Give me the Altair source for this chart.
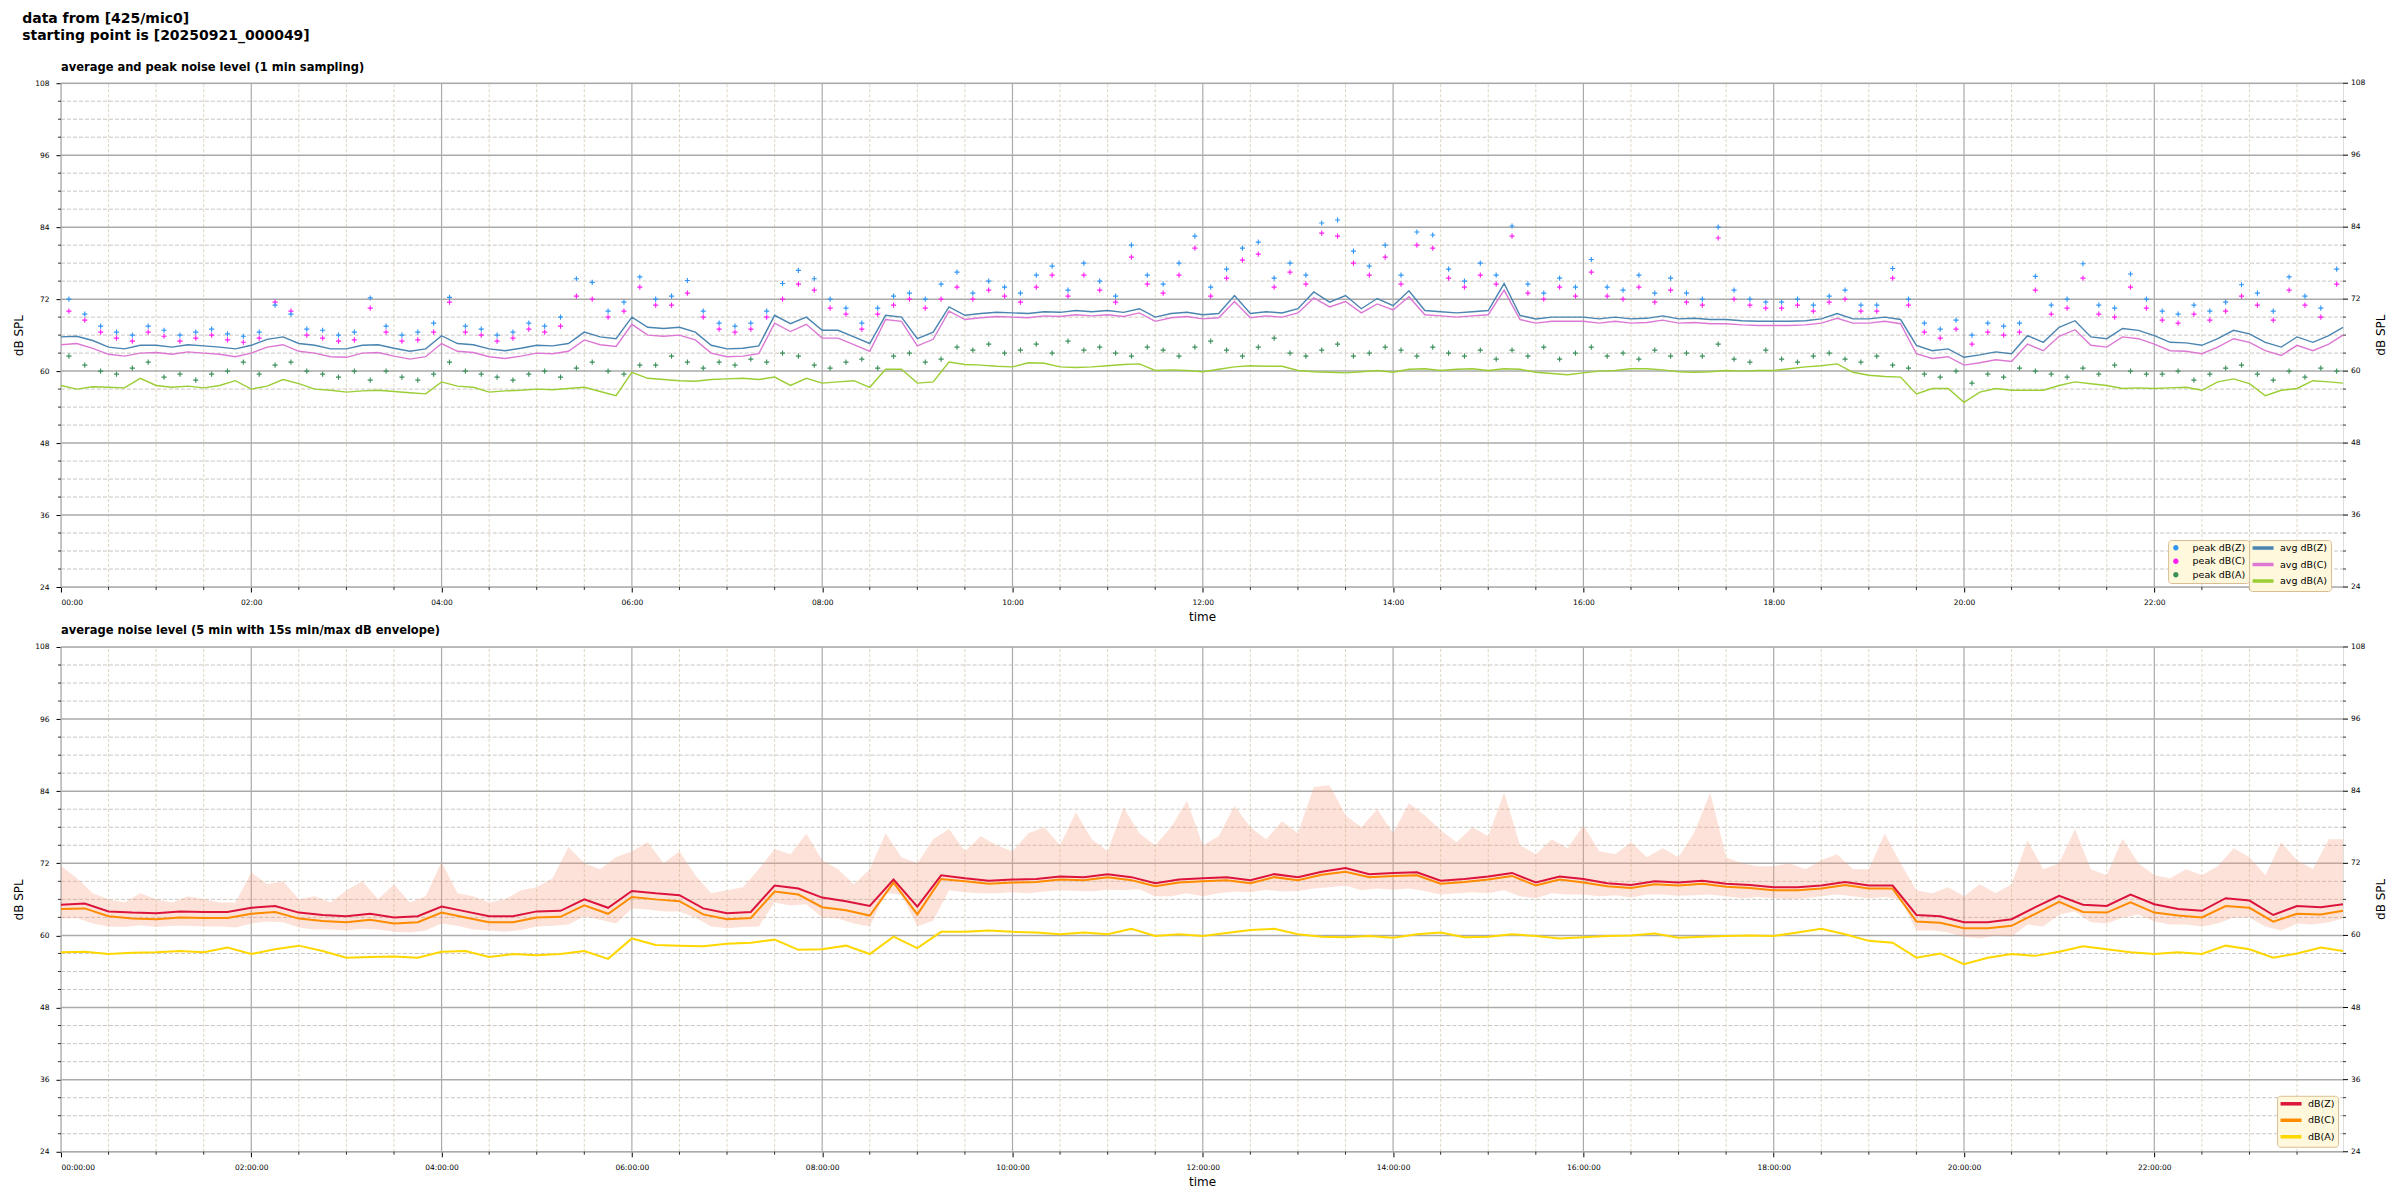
import altair as alt
import pandas as pd

# ---------------- data ----------------
# top panel: 1-min averages sampled every 10 min (last point = 23:59)
TOP_T = [10 * i for i in range(144)] + [1439]
TOP_AVG_Z = [
    65.7, 65.8, 65.1, 64.0, 63.7, 64.3,
    64.3, 64.0, 64.4, 64.2, 64.0, 63.7,
    64.3, 65.3, 65.7, 64.6, 64.3, 63.7,
    63.7, 64.3, 64.4, 63.8, 63.3, 63.7,
    65.9, 64.6, 64.4, 63.7, 63.4, 63.8,
    64.3, 64.2, 64.6, 66.5, 65.7, 65.4,
    69.0, 67.3, 67.1, 67.3, 66.5, 64.3,
    63.7, 63.8, 64.2, 69.3, 67.9, 69.0,
    66.8, 66.8, 65.7, 64.6, 69.3, 69.0,
    65.4, 66.5, 70.7, 69.3, 69.6, 69.8,
    69.7, 69.6, 69.9, 69.8, 70.1, 69.9,
    70.1, 69.8, 70.4, 69.0, 69.6, 69.8,
    69.4, 69.6, 72.6, 69.6, 69.9, 69.7,
    70.4, 73.2, 71.5, 72.6, 70.4, 72.1,
    70.9, 73.4, 70.1, 69.9, 69.7, 69.9,
    70.1, 74.6, 69.3, 68.7, 69.0, 69.0,
    69.0, 68.7, 69.0, 68.7, 68.8, 69.2,
    68.7, 68.8, 68.6, 68.6, 68.4, 68.3,
    68.3, 68.3, 68.4, 68.7, 69.6, 68.7,
    68.7, 69.0, 68.6, 64.3, 63.4, 63.7,
    62.3, 62.7, 63.2, 62.9, 65.9, 64.8,
    67.3, 68.4, 65.7, 65.4, 67.1, 66.8,
    65.9, 64.8, 64.7, 64.3, 65.4, 66.8,
    66.2, 64.8, 64.0, 65.7, 64.8, 65.9,
    67.3,
]
TOP_AVG_C = [
    64.4, 64.6, 63.8, 62.8, 62.5, 63.0,
    63.1, 62.8, 63.2, 63.0, 62.8, 62.4,
    63.0, 64.0, 64.4, 63.3, 63.0, 62.4,
    62.3, 63.0, 63.1, 62.5, 62.0, 62.4,
    64.6, 63.3, 63.1, 62.4, 62.1, 62.5,
    63.0, 62.9, 63.3, 65.2, 64.4, 64.1,
    67.8, 66.0, 65.8, 66.0, 65.2, 63.0,
    62.4, 62.5, 62.9, 68.0, 66.6, 67.8,
    65.5, 65.5, 64.4, 63.3, 68.6, 68.3,
    64.2, 65.3, 70.0, 68.6, 68.9, 69.1,
    69.0, 68.9, 69.2, 69.1, 69.4, 69.2,
    69.4, 69.1, 69.7, 68.3, 68.9, 69.1,
    68.7, 68.9, 71.6, 68.9, 69.2, 69.0,
    69.7, 72.2, 70.7, 71.6, 69.7, 71.2,
    70.2, 72.4, 69.4, 69.2, 69.0, 69.2,
    69.4, 73.5, 68.6, 68.0, 68.3, 68.3,
    68.3, 68.0, 68.3, 68.0, 68.1, 68.5,
    68.0, 68.1, 67.9, 67.9, 67.7, 67.6,
    67.6, 67.6, 67.7, 68.0, 68.8, 68.0,
    68.0, 68.3, 67.9, 62.9, 62.1, 62.4,
    61.0, 61.4, 61.9, 61.6, 64.5, 63.4,
    65.8, 66.9, 64.3, 64.0, 65.7, 65.4,
    64.5, 63.4, 63.3, 62.9, 64.0, 65.4,
    64.8, 63.4, 62.6, 64.3, 63.4, 64.5,
    66.0,
]
TOP_AVG_A = [
    57.6, 57.0, 57.4, 57.3, 57.2, 58.8,
    57.6, 57.3, 57.5, 57.2, 57.6, 58.4,
    57.0, 57.5, 58.6, 57.9, 57.0, 56.8,
    56.5, 56.7, 56.8, 56.6, 56.4, 56.2,
    58.2, 57.5, 57.3, 56.5, 56.7, 56.8,
    57.0, 56.9, 57.1, 57.3, 56.6, 55.9,
    59.8, 58.8, 58.6, 58.4, 58.3, 58.6,
    58.7, 58.8, 58.6, 59.0, 57.6, 58.8,
    58.0, 58.2, 58.4, 57.3, 60.3, 60.3,
    58.0, 58.2, 61.5, 61.1, 61.0, 60.8,
    60.7, 61.4, 61.3, 60.7, 60.6, 60.7,
    60.9, 61.1, 61.2, 60.1, 60.2, 60.1,
    59.9, 60.3, 60.7, 60.9, 60.8, 60.8,
    60.1, 59.9, 59.8, 59.7, 59.9, 60.1,
    59.8, 60.3, 60.4, 60.1, 60.3, 60.4,
    60.1, 60.4, 60.3, 59.8, 59.6, 59.4,
    59.7, 60.0, 60.1, 60.4, 60.4, 60.2,
    59.9, 59.8, 59.9, 60.1, 60.0, 60.1,
    60.1, 60.4, 60.7, 60.9, 61.2, 59.8,
    59.3, 59.1, 59.0, 56.2, 57.1, 57.1,
    54.8, 56.5, 57.1, 56.8, 56.8, 56.8,
    57.6, 58.2, 57.9, 57.6, 57.1, 57.2,
    57.1, 57.2, 57.3, 56.8, 58.2, 58.7,
    57.9, 55.9, 56.8, 57.1, 58.4, 58.2,
    58.0,
]

# top panel: peak values (one per 10 min, plotted mid-interval)
PEAK_T = [10 * i + 5 for i in range(144)]
PEAK_Z = [
    72.0, 69.5, 67.5, 66.5, 66.0, 67.5,
    66.8, 66.0, 66.5, 67.0, 66.2, 65.8,
    66.5, 71.0, 69.5, 67.0, 66.8, 66.0,
    66.5, 72.2, 67.5, 66.0, 66.5, 68.0,
    72.3, 67.5, 67.0, 66.0, 66.5, 68.0,
    67.5, 69.0, 75.4, 74.8, 70.0, 71.5,
    75.7, 72.0, 72.5, 75.1, 70.0, 68.0,
    67.5, 68.0, 70.0, 74.6, 76.8, 75.4,
    72.0, 70.5, 68.0, 70.5, 72.5, 73.0,
    72.0, 74.5, 76.5, 73.0, 75.0, 74.0,
    73.0, 76.0, 77.5, 73.5, 78.0, 75.0,
    72.5, 81.0, 76.0, 74.5, 78.0, 82.5,
    74.0, 77.0, 80.5, 81.5, 75.5, 78.0,
    76.0, 84.7, 85.2, 80.0, 77.5, 81.0,
    76.0, 83.2, 82.7, 77.0, 75.0, 78.0,
    76.0, 84.2, 74.5, 73.0, 75.5, 74.0,
    78.6, 74.0, 73.5, 76.0, 73.0, 75.5,
    73.0, 72.0, 84.0, 73.5, 72.0, 71.5,
    71.5, 72.0, 71.0, 72.5, 73.5, 71.0,
    71.0, 77.1, 72.0, 68.0, 67.0, 68.5,
    66.0, 68.0, 67.5, 68.0, 75.8, 71.0,
    72.0, 77.9, 71.0, 70.5, 76.2, 72.0,
    70.0, 69.5, 71.0, 70.0, 71.5, 74.4,
    73.0, 70.0, 75.7, 72.5, 70.5, 77.0,
]
PEAK_C = [
    70.0, 68.5, 66.5, 65.5, 65.0, 66.5,
    65.8, 65.0, 65.5, 66.0, 65.2, 64.8,
    65.5, 71.5, 70.0, 66.0, 65.5, 65.0,
    65.2, 70.5, 66.5, 65.0, 65.2, 66.5,
    71.5, 66.5, 66.0, 65.0, 65.5, 67.0,
    66.5, 67.5, 72.5, 72.0, 69.0, 70.0,
    74.0, 71.0, 71.0, 73.0, 69.0, 67.0,
    66.5, 67.0, 69.0, 72.0, 74.5, 73.5,
    70.5, 69.5, 67.0, 69.5, 71.0, 72.0,
    70.5, 72.0, 74.0, 72.0, 73.5, 72.5,
    71.5, 74.0, 76.0, 72.5, 76.0, 73.5,
    71.5, 79.0, 74.5, 73.0, 76.0, 80.5,
    72.5, 75.5, 78.5, 79.5, 74.0, 76.5,
    74.5, 83.0, 82.5, 78.0, 76.0, 79.0,
    74.5, 81.0, 80.5, 75.5, 74.0, 76.0,
    74.5, 82.5, 73.0, 72.0, 74.0, 72.5,
    76.5, 72.5, 72.0, 74.0, 71.5, 73.5,
    71.5, 71.0, 82.2, 72.0, 71.0, 70.5,
    70.5, 71.0, 70.0, 71.5, 72.0, 70.0,
    70.0, 75.5, 71.0, 66.5, 65.5, 67.0,
    64.5, 66.5, 66.0, 66.5, 73.5, 69.5,
    70.5, 75.5, 69.5, 69.0, 74.0, 70.5,
    68.5, 68.0, 69.5, 68.5, 70.0, 72.5,
    71.0, 68.5, 73.5, 71.0, 69.0, 74.5,
]
PEAK_A = [
    62.5, 61.0, 60.0, 59.5, 60.5, 61.5,
    59.0, 59.5, 58.5, 59.5, 60.0, 61.5,
    59.5, 61.0, 61.5, 60.0, 59.5, 59.0,
    60.0, 58.5, 60.0, 59.0, 58.5, 59.5,
    61.5, 60.0, 59.5, 59.0, 58.5, 59.5,
    60.0, 59.0, 60.5, 61.5, 60.0, 59.5,
    61.0, 61.0, 62.5, 61.5, 60.5, 61.5,
    61.0, 62.0, 61.5, 63.0, 62.5, 61.0,
    60.5, 61.5, 62.0, 60.5, 62.5, 63.0,
    61.5, 62.0, 64.0, 63.5, 64.5, 63.0,
    63.5, 64.5, 63.0, 65.0, 63.5, 64.0,
    63.0, 62.5, 64.0, 63.5, 62.5, 64.0,
    65.0, 63.5, 62.5, 64.0, 65.5, 63.0,
    62.5, 63.5, 64.5, 62.5, 63.0, 64.0,
    63.5, 62.5, 64.0, 63.0, 62.5, 63.5,
    62.0, 63.5, 62.5, 64.0, 62.0, 63.0,
    64.0, 62.5, 63.0, 62.0, 63.5, 62.5,
    63.0, 62.5, 64.5, 62.0, 61.5, 63.5,
    62.0, 61.5, 62.5, 63.0, 62.0, 61.5,
    62.5, 61.0, 60.5, 59.5, 59.0, 60.0,
    58.0, 59.5, 59.0, 60.5, 60.0, 59.5,
    59.0, 60.5, 59.5, 61.0, 60.0, 59.5,
    59.5, 60.0, 58.5, 59.5, 60.5, 61.0,
    59.5, 58.5, 60.0, 59.0, 60.5, 60.0,
]

# bottom panel: 5-min averages sampled every 15 min (last point = 23:59)
BOT_T = [15 * i for i in range(96)] + [1439]
BOT_Z = [
    65.1, 65.3, 64.0, 63.8,
    63.7, 64.0, 63.9, 63.9,
    64.6, 64.9, 63.8, 63.4,
    63.2, 63.6, 63.0, 63.2,
    64.8, 64.0, 63.2, 63.2,
    64.0, 64.1, 66.0, 64.6,
    67.4, 67.0, 66.7, 64.5,
    63.7, 63.9, 68.3, 67.8,
    66.3, 65.7, 64.9, 69.3,
    64.8, 70.0, 69.5, 69.1,
    69.3, 69.4, 69.8, 69.7,
    70.2, 69.7, 68.7, 69.3,
    69.5, 69.7, 69.2, 70.2,
    69.7, 70.6, 71.2, 70.2,
    70.4, 70.5, 69.1, 69.4,
    69.8, 70.4, 68.8, 69.8,
    69.4, 68.7, 68.4, 69.0,
    68.8, 69.1, 68.6, 68.4,
    68.0, 68.0, 68.3, 68.9,
    68.3, 68.3, 63.4, 63.2,
    62.2, 62.2, 62.7, 64.7,
    66.6, 65.1, 64.9, 66.8,
    65.2, 64.4, 64.1, 66.2,
    65.8, 63.4, 64.9, 64.7,
    65.2,
]
BOT_C = [
    64.4, 64.5, 63.2, 62.8,
    62.7, 63.0, 62.9, 62.9,
    63.6, 63.9, 62.8, 62.4,
    62.2, 62.6, 62.0, 62.2,
    63.8, 63.0, 62.2, 62.2,
    63.0, 63.1, 65.0, 63.6,
    66.4, 66.0, 65.7, 63.5,
    62.7, 62.9, 67.3, 66.8,
    64.7, 64.2, 63.3, 68.8,
    63.5, 69.4, 69.0, 68.6,
    68.8, 68.9, 69.3, 69.2,
    69.7, 69.2, 68.2, 68.8,
    69.0, 69.2, 68.7, 69.7,
    69.2, 70.1, 70.6, 69.7,
    69.9, 70.0, 68.6, 68.9,
    69.3, 69.9, 68.3, 69.3,
    68.8, 68.2, 67.9, 68.5,
    68.3, 68.6, 68.1, 67.9,
    67.5, 67.5, 67.8, 68.4,
    67.8, 67.8, 62.3, 62.1,
    61.2, 61.2, 61.6, 63.6,
    65.6, 63.9, 63.8, 65.5,
    63.8, 63.3, 63.0, 64.9,
    64.6, 62.3, 63.6, 63.5,
    64.1,
]
BOT_A = [
    57.2, 57.3, 56.9, 57.1,
    57.2, 57.4, 57.2, 58.0,
    56.9, 57.7, 58.3, 57.4,
    56.3, 56.4, 56.5, 56.3,
    57.3, 57.4, 56.4, 56.9,
    56.7, 56.9, 57.4, 56.1,
    59.5, 58.4, 58.3, 58.2,
    58.6, 58.8, 59.3, 57.6,
    57.7, 58.3, 56.9, 59.8,
    57.9, 60.6, 60.6, 60.8,
    60.6, 60.5, 60.2, 60.5,
    60.2, 61.1, 59.9, 60.2,
    59.9, 60.4, 60.9, 61.1,
    60.2, 59.8, 59.7, 59.9,
    59.6, 60.2, 60.5, 59.7,
    59.8, 60.2, 59.9, 59.5,
    59.7, 59.9, 60.0, 60.3,
    59.6, 59.8, 59.9, 60.0,
    59.9, 60.5, 61.1, 60.2,
    59.1, 58.8, 56.3, 57.0,
    55.2, 56.3, 56.9, 56.6,
    57.3, 58.2, 57.7, 57.2,
    56.9, 57.2, 56.9, 58.3,
    57.7, 56.3, 57.0, 58.0,
    57.4,
]
# bottom panel: 15 s min / max envelope, sampled every 10 min
ENV_T = TOP_T
ENV_MIN = [
    62.8, 62.9, 62.0, 61.5, 61.4, 61.7,
    61.4, 61.6, 61.6, 61.5, 61.5, 61.3,
    62.0, 62.3, 62.2, 61.3, 61.0, 61.0,
    60.8, 61.1, 61.0, 60.6, 60.5, 60.8,
    62.0, 61.6, 61.0, 60.8, 60.6, 60.9,
    61.5, 61.6, 61.8, 63.2, 62.6, 62.0,
    64.5, 64.3, 64.0, 64.0, 63.0, 61.5,
    61.2, 61.4, 61.5, 65.5, 65.0, 65.2,
    63.0, 62.8, 62.0, 61.5, 67.0, 66.8,
    61.5, 62.5, 67.5, 67.2, 67.0, 67.0,
    67.2, 67.0, 67.3, 67.5, 67.4, 67.3,
    67.6, 67.5, 67.7, 66.5, 66.5, 67.0,
    66.5, 67.0, 67.3, 67.2, 67.6, 67.3,
    67.4, 67.8, 68.0, 68.3, 67.5, 67.8,
    67.6, 67.8, 67.4, 66.8, 67.0, 67.2,
    67.0, 67.5, 66.5, 66.2, 67.0, 66.8,
    66.8, 66.5, 66.7, 66.3, 66.8, 66.8,
    66.6, 66.7, 66.8, 66.5, 66.2, 66.4,
    66.2, 66.0, 66.2, 66.5, 66.8, 66.5,
    66.2, 66.4, 66.0, 60.8, 60.8, 60.5,
    59.8, 59.5, 60.0, 59.8, 61.8, 61.5,
    63.5, 64.0, 62.2, 62.0, 63.0, 63.5,
    62.3, 61.8, 61.8, 61.5, 62.0, 63.0,
    63.0, 61.5, 60.8, 62.0, 61.8, 62.2,
    62.8,
]
ENV_MAX = [
    71.6, 69.5, 67.0, 66.0, 65.5, 67.0,
    66.0, 65.5, 66.5, 66.0, 65.5, 65.5,
    70.5, 68.5, 69.0, 66.0, 66.5, 65.5,
    67.5, 69.0, 66.0, 68.5, 65.5, 66.5,
    72.2, 67.0, 66.5, 65.5, 66.0, 67.5,
    68.0, 69.5, 74.7, 72.0, 71.0, 73.0,
    74.0, 75.5, 72.0, 74.0, 70.0, 67.0,
    67.5, 68.0, 71.0, 74.4, 73.5, 76.9,
    72.5, 71.0, 68.5, 71.0, 77.0, 73.0,
    72.0, 76.0, 77.7, 74.0, 76.5, 75.0,
    74.0, 77.0, 78.0, 75.0, 80.5, 76.0,
    74.0, 81.3, 77.0, 75.0, 78.0, 82.4,
    75.0, 76.5, 81.6, 78.0, 76.0, 79.0,
    77.0, 84.7, 85.0, 80.0, 78.0, 81.0,
    77.0, 82.0, 80.0, 77.5, 75.5, 78.0,
    76.5, 83.8, 75.0, 73.5, 76.0, 74.5,
    78.3, 74.0, 73.5, 75.5, 73.0, 74.5,
    73.0, 77.2, 83.8, 73.0, 72.0, 71.5,
    71.5, 72.0, 71.0, 72.5, 73.5, 71.0,
    71.0, 76.9, 72.0, 67.5, 67.0, 68.0,
    66.5, 68.5, 67.0, 68.5, 75.8, 71.0,
    72.0, 77.7, 71.0, 70.0, 76.1, 72.0,
    70.0, 69.5, 71.0, 70.0, 71.5, 74.5,
    73.0, 70.0, 75.5, 72.5, 71.0, 76.0,
    76.0,
]

# axis / grid values
Y_MAJOR = [24, 36, 48, 60, 72, 84, 96, 108]
Y_MINOR = [v for v in range(24, 109, 3) if v % 12 != 0]
X_MAJOR = list(range(0, 1440, 120))
X_MINOR = [v for v in range(0, 1440, 30) if v % 120 != 0]

PEAK_SERIES = ["peak dB(Z)", "peak dB(C)", "peak dB(A)"]
PEAK_COLORS = ["#2f95f5", "#ff1df2", "#3a8f5a"]
AVG_SERIES = ["avg dB(Z)", "avg dB(C)", "avg dB(A)"]
AVG_COLORS = ["#4a84b0", "#dc78d4", "#9bcd34"]
BOT_SERIES = ["dB(Z)", "dB(C)", "dB(A)"]
BOT_COLORS = ["#dc143c", "#ff8c00", "#ffd700"]


# ---------------- tables ----------------
def long(t, cols, key):
    rows = []
    for name, vals in cols:
        for m, v in zip(t, vals):
            rows.append({"m": m, "v": v, key: name})
    return pd.DataFrame(rows)


top_lines = long(TOP_T, [("avg dB(A)", TOP_AVG_A), ("avg dB(C)", TOP_AVG_C), ("avg dB(Z)", TOP_AVG_Z)], "s")
top_peaks = long(PEAK_T, [("peak dB(A)", PEAK_A), ("peak dB(C)", PEAK_C), ("peak dB(Z)", PEAK_Z)], "p")
bot_lines = long(BOT_T, [("dB(A)", BOT_A), ("dB(C)", BOT_C), ("dB(Z)", BOT_Z)], "b")
env = pd.DataFrame({"m": ENV_T, "lo": ENV_MIN, "hi": ENV_MAX})

XS = alt.Scale(domain=[0, 1439], nice=False, zero=False)
YS = alt.Scale(domain=[24, 108], nice=False, zero=False)

W, H = 2283, 504
LBL = 7.5
AX = dict(labelFont="DejaVu Sans", labelFontSize=LBL, labelColor="black", tickColor="black",
          domain=False, grid=False, titleFont="DejaVu Sans", titleFontSize=12,
          titleFontWeight="normal", titleColor="black", tickSize=5, labelPadding=7)

HHMM = "(floor(datum.value/60) < 10 ? '0' : '') + floor(datum.value/60) + ':00'"
HHMMSS = "(floor(datum.value/60) < 10 ? '0' : '') + floor(datum.value/60) + ':00:00'"

YAX = alt.Axis(values=Y_MAJOR, title="dB SPL", titlePadding=9, **AX)


def make_xax(label_expr):
    return alt.Axis(values=X_MAJOR, labelExpr=label_expr, title="time", titlePadding=5, **AX)


def frame_layers(xax, h):
    ymin = pd.DataFrame({"v": Y_MINOR})
    ymaj = pd.DataFrame({"v": Y_MAJOR})
    xmin = pd.DataFrame({"m": X_MINOR})
    xmaj = pd.DataFrame({"m": X_MAJOR})
    gxm = alt.Chart(xmin).mark_rule(color="#d6ccb4", strokeDash=[3, 2], strokeWidth=0.8).encode(
        x=alt.X("m:Q", scale=XS, axis=xax), y=alt.Y(datum=24, scale=YS, axis=YAX), y2=alt.Y2(datum=108))
    gym = alt.Chart(ymin).mark_rule(color="#bcb8b0", strokeDash=[4, 2], strokeWidth=0.8).encode(
        y=alt.Y("v:Q", scale=YS, axis=YAX), x=alt.X(datum=0, scale=XS, axis=xax), x2=alt.X2(datum=1439))
    gx = alt.Chart(xmaj).mark_rule(color="#aaaaaa", strokeWidth=1.2).encode(
        x=alt.X("m:Q", scale=XS, axis=xax), y=alt.Y(datum=24, scale=YS, axis=YAX), y2=alt.Y2(datum=108))
    gy = alt.Chart(ymaj).mark_rule(color="#aaaaaa", strokeWidth=1.5).encode(
        y=alt.Y("v:Q", scale=YS, axis=YAX), x=alt.X(datum=0, scale=XS, axis=xax), x2=alt.X2(datum=1439))
    tl = alt.Chart(ymin).mark_rule(color="black", strokeWidth=0.8).encode(
        y=alt.Y("v:Q", scale=YS, axis=YAX), x=alt.value(-3), x2=alt.value(0))
    tr = alt.Chart(ymin).mark_rule(color="black", strokeWidth=0.8).encode(
        y=alt.Y("v:Q", scale=YS, axis=YAX), x=alt.value(W), x2=alt.value(W + 3))
    tb = alt.Chart(xmin).mark_rule(color="black", strokeWidth=0.8).encode(
        x=alt.X("m:Q", scale=XS, axis=xax), y=alt.value(h), y2=alt.value(h + 3))
    trm = alt.Chart(ymaj).mark_rule(color="black", strokeWidth=1).encode(
        y=alt.Y("v:Q", scale=YS, axis=YAX), x=alt.value(W), x2=alt.value(W + 5))
    trl = alt.Chart(ymaj).mark_text(align="left", baseline="middle", font="DejaVu Sans",
                                    fontSize=LBL, color="black").encode(
        y=alt.Y("v:Q", scale=YS, axis=YAX), x=alt.value(W + 8), text=alt.Text("v:Q"))
    rtitle = alt.Chart(pd.DataFrame({"t": ["dB SPL"]})).mark_text(
        angle=270, align="center", baseline="middle", font="DejaVu Sans", fontSize=12, color="black").encode(
        text="t:N", x=alt.value(W + 38), y=alt.value(h / 2))
    return [gxm, gym, gx, gy, tl, tr, tb, trm, trl, rtitle]


CROSS = "M-1,-0.22L-0.22,-0.22L-0.22,-1L0.22,-1L0.22,-0.22L1,-0.22L1,0.22L0.22,0.22L0.22,1L-0.22,1L-0.22,0.22L-1,0.22Z"
DOT = "M-0.9,0A0.9,0.9 0 1,0 0.9,0A0.9,0.9 0 1,0 -0.9,0Z"
LINE = "M-1.5,0L5.5,0"

BOX = dict(fillColor="#fff8dc", strokeColor="#d9be94", cornerRadius=3, padding=3,
           labelFont="DejaVu Sans", labelFontSize=9.5, labelColor="black", title=None,
           symbolSize=36, rowPadding=2.5)

XAX_TOP = make_xax(HHMM)
XAX_BOT = make_xax(HHMMSS)

peaks = alt.Chart(top_peaks).mark_point(shape=CROSS, filled=True, size=26, opacity=1).encode(
    x=alt.X("m:Q", scale=XS, axis=XAX_TOP), y=alt.Y("v:Q", scale=YS, axis=YAX),
    fill=alt.Fill("p:N", scale=alt.Scale(domain=PEAK_SERIES, range=PEAK_COLORS),
                  legend=alt.Legend(orient="none", legendX=2108, legendY=457, symbolType=DOT,
                                    symbolStrokeWidth=0, labelOffset=12, **BOX)))
avg = alt.Chart(top_lines).mark_line(strokeWidth=1.4).encode(
    x=alt.X("m:Q", scale=XS, axis=XAX_TOP), y=alt.Y("v:Q", scale=YS, axis=YAX),
    color=alt.Color("s:N", scale=alt.Scale(domain=AVG_SERIES, range=AVG_COLORS),
                    legend=alt.Legend(orient="none", legendX=2189, legendY=457, symbolType=LINE,
                                      symbolStrokeWidth=3.5, labelOffset=18, **BOX)))

TITLE_KW = dict(anchor="start", frame="group", font="DejaVu Sans", fontSize=11.5, fontWeight="bold",
                color="black", offset=6)

top = alt.layer(*frame_layers(XAX_TOP, H), peaks, avg).properties(
    width=W, height=H, title=alt.TitleParams("average and peak noise level (1 min sampling)", **TITLE_KW))

band = alt.Chart(env).mark_area(color="#f4a07e", opacity=0.3).encode(
    x=alt.X("m:Q", scale=XS, axis=XAX_BOT), y=alt.Y("hi:Q", scale=YS, axis=YAX), y2="lo:Q")
bl = alt.Chart(bot_lines).mark_line(strokeWidth=2).encode(
    x=alt.X("m:Q", scale=XS, axis=XAX_BOT), y=alt.Y("v:Q", scale=YS, axis=YAX),
    color=alt.Color("b:N", scale=alt.Scale(domain=BOT_SERIES, range=BOT_COLORS),
                    legend=alt.Legend(orient="bottom-right", offset=5, symbolType=LINE,
                                      symbolStrokeWidth=3.5, labelOffset=18, **BOX)))

bottom = alt.layer(*frame_layers(XAX_BOT, H + 1), band, bl).properties(
    width=W, height=H + 1,
    title=alt.TitleParams("average noise level (5 min with 15s min/max dB envelope)", **TITLE_KW))

chart = alt.vconcat(top, bottom, spacing=2).resolve_scale(color="independent", fill="independent").resolve_legend(
    color="independent", fill="independent").properties(
    title=alt.TitleParams(["data from [425/mic0]", "starting point is [20250921_000049]"],
                          anchor="start", font="DejaVu Sans", fontSize=14, fontWeight="bold",
                          color="black", lineHeight=17, offset=18, dx=10),
    padding={"left": 4, "top": 4, "right": 4, "bottom": 4},
).configure_view(fill="#fff8dc", stroke="black", strokeWidth=1.5).configure(font="DejaVu Sans")

chart.save("out.html", embed_options={"renderer": "svg", "actions": False})
